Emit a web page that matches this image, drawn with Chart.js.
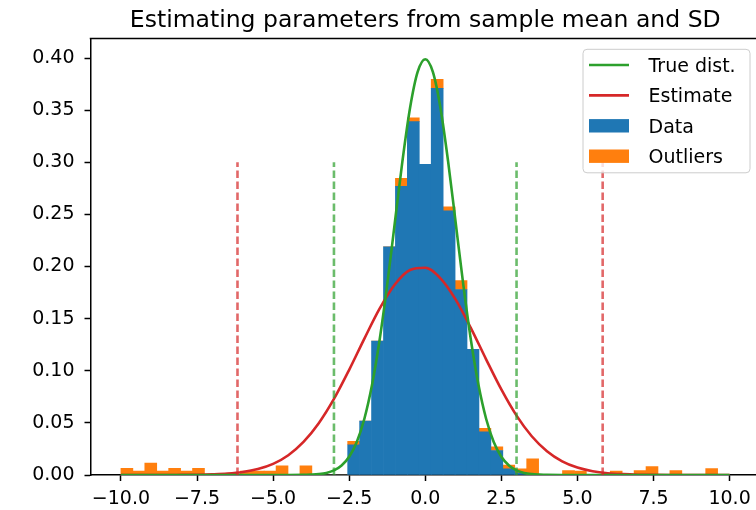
<!DOCTYPE html>
<html>
<head>
<meta charset="utf-8">
<script src="https://cdn.jsdelivr.net/npm/chart.js@4.4.1/dist/chart.umd.min.js"></script>
<style>
  html, body { margin: 0; padding: 0; background: #fff; overflow: hidden; width: 756px; height: 510px; }
  canvas { display: block; }
</style>
</head>
<body>
<canvas id="c" width="760" height="510"></canvas>
<script>
// ---------- data ----------
const chartTitle = 'Estimating parameters from sample mean and SD';
const legendLabels = ['True dist.', 'Estimate', 'Data', 'Outliers'];

// histogram: 51 equal bins over [-10, 10]
const histRange = [-10, 10];
const dataDensity = [
  0, 0, 0, 0, 0, 0, 0, 0, 0, 0,
  0, 0, 0, 0, 0, 0, 0, 0, 0, 0.0290,
  0.0518, 0.1285, 0.2190, 0.2770, 0.3390, 0.2980, 0.3710, 0.2535, 0.1780, 0.1206,
  0.0415, 0.0235, 0.0058, 0.0020, 0, 0, 0, 0, 0, 0,
  0, 0, 0, 0, 0, 0, 0, 0, 0, 0,
  0
];
const outlierDensity = [
  0.0064, 0.0038, 0.0115, 0.0038, 0.0064, 0.0038, 0.0064, 0, 0, 0,
  0.0038, 0.0038, 0.0038, 0.0087, 0, 0.0087, 0, 0, 0, 0.0032,
  0, 0, 0, 0.0077, 0.0038, 0, 0.0086, 0.0038, 0.0085, 0,
  0.0033, 0.0036, 0.0038, 0.0038, 0.0156, 0, 0, 0.0042, 0.0038, 0,
  0, 0.0038, 0, 0.0042, 0.0080, 0, 0.0042, 0, 0, 0.0062,
  0
];

// true distribution curve (green)
const trueX = [-10, -5, -4.5, -4, -3.75, -3.5, -3.25, -3, -2.75, -2.5, -2.25, -2, -1.75, -1.5, -1.25, -1, -0.75, -0.5, -0.25,
  0, 0.25, 0.5, 0.75, 1, 1.25, 1.5, 1.75, 2, 2.25, 2.5, 2.75, 3, 3.25, 3.5, 3.75, 4, 4.5, 5, 10];
const trueY = [0, 0, 0, 0.0001, 0.0004, 0.0009, 0.0020, 0.0044, 0.0091, 0.0175, 0.0317, 0.0540, 0.0863, 0.1295, 0.1826, 0.2420, 0.3011, 0.3521, 0.3867,
  0.3989, 0.3867, 0.3521, 0.3011, 0.2420, 0.1826, 0.1295, 0.0863, 0.0540, 0.0317, 0.0175, 0.0091, 0.0044, 0.0020, 0.0009, 0.0004, 0.0001, 0, 0, 0];

// estimated curve (red)
const estX = [-10, -9.5, -9, -8.5, -8, -7.5, -7, -6.5, -6, -5.5, -5, -4.5, -4, -3.5, -3, -2.5, -2, -1.5, -1, -0.5,
  0, 0.5, 1, 1.5, 2, 2.5, 3, 3.5, 4, 4.5, 5, 5.5, 6, 6.5, 7, 7.5, 8, 8.5, 9, 9.5, 10];
const estY = [0, 0, 0, 0, 0.0001, 0.0002, 0.0006, 0.0013, 0.0028, 0.0057, 0.0107, 0.0190, 0.0317, 0.0497, 0.0730, 0.1009, 0.1309, 0.1596, 0.1828, 0.1967,
  0.1988, 0.1887, 0.1683, 0.1410, 0.1110, 0.0821, 0.0570, 0.0372, 0.0228, 0.0131, 0.0071, 0.0036, 0.0017, 0.0008, 0.0003, 0.0001, 0, 0, 0, 0, 0];

// +-3 SD bounds (dashed verticals)
const trueBounds = [-3, 3];
const estBounds = [-6.17, 5.83];
const boundTop = 0.30;

// axes
const xLimits = [-11, 11];
const yLimits = [0, 0.4188];
const xTicks = [-10, -7.5, -5, -2.5, 0, 2.5, 5, 7.5, 10];
const xTickLabels = ['\u221210.0', '\u22127.5', '\u22125.0', '\u22122.5', '0.0', '2.5', '5.0', '7.5', '10.0'];
const yTicks = [0, 0.05, 0.10, 0.15, 0.20, 0.25, 0.30, 0.35, 0.40];
const yTickLabels = ['0.00', '0.05', '0.10', '0.15', '0.20', '0.25', '0.30', '0.35', '0.40'];

// ---------- build ----------
const FONT = '"DejaVu Sans", "Liberation Sans", sans-serif';
const binWidth = (histRange[1] - histRange[0]) / dataDensity.length;
const binCenters = dataDensity.map((_, k) => histRange[0] + (k + 0.5) * binWidth);
const pts = (xs, ys) => xs.map((x, i) => ({ x: x, y: ys[i] }));
const vline = (x) => [{ x: x, y: 0 }, { x: x, y: boundTop }];

const GREEN = '#2ca02c', RED = '#d62728', BLUE = '#1f77b4', ORANGE = '#ff7f0e';
const GREEN_A = 'rgba(44,160,44,0.7)', RED_A = 'rgba(214,39,40,0.7)';
const LW = 2.6;
const DASH = [7.5, 3.5];

const lineBase = { type: 'line', pointRadius: 0, borderWidth: LW, fill: false, order: 1, cubicInterpolationMode: 'monotone' };
const dashBase = { type: 'line', pointRadius: 0, borderWidth: LW, fill: false, order: 0, borderDash: DASH, tension: 0 };

const datasets = [
  Object.assign({}, lineBase, { label: legendLabels[0], data: pts(trueX, trueY), borderColor: GREEN, legendKind: 'line' }),
  Object.assign({}, lineBase, { label: legendLabels[1], data: pts(estX, estY), borderColor: RED, legendKind: 'line' }),
  { type: 'bar', label: legendLabels[2], data: pts(binCenters, dataDensity), backgroundColor: BLUE, borderWidth: 0,
    stack: 'hist', order: 2, barPercentage: 1, categoryPercentage: 1, legendKind: 'box' },
  { type: 'bar', label: legendLabels[3], data: pts(binCenters, outlierDensity), backgroundColor: ORANGE, borderWidth: 0,
    stack: 'hist', order: 2, barPercentage: 1, categoryPercentage: 1, legendKind: 'box' },
  Object.assign({}, dashBase, { label: 'tb0', data: vline(trueBounds[0]), borderColor: GREEN_A }),
  Object.assign({}, dashBase, { label: 'tb1', data: vline(trueBounds[1]), borderColor: GREEN_A }),
  Object.assign({}, dashBase, { label: 'eb0', data: vline(estBounds[0]), borderColor: RED_A }),
  Object.assign({}, dashBase, { label: 'eb1', data: vline(estBounds[1]), borderColor: RED_A })
];

const decor = {
  id: 'decor',
  afterDraw(chart) {
    const { ctx, chartArea: ca } = chart;
    ctx.save();
    // top spine
    ctx.strokeStyle = '#000';
    ctx.lineWidth = 1.5;
    ctx.beginPath();
    ctx.moveTo(ca.left - 0.75, ca.top);
    ctx.lineTo(ca.right, ca.top);
    ctx.stroke();
    // title
    ctx.fillStyle = '#000';
    ctx.font = '23.5px ' + FONT;
    ctx.textAlign = 'center';
    ctx.textBaseline = 'alphabetic';
    ctx.fillText(chartTitle, (ca.left + ca.right) / 2, ca.top - 11.5);
    // legend
    const items = chart.data.datasets.filter(d => d.legendKind);
    const bw = 167, bh = 123.5;
    const bx = ca.right - 10 - bw, by = ca.top + 10.8;
    ctx.beginPath();
    ctx.roundRect(bx, by, bw, bh, 4);
    ctx.fillStyle = 'rgba(255,255,255,0.8)';
    ctx.fill();
    ctx.strokeStyle = '#cccccc';
    ctx.lineWidth = 1;
    ctx.stroke();
    ctx.font = '19px ' + FONT;
    ctx.textAlign = 'left';
    items.forEach((d, i) => {
      const cy = by + 15.7 + i * 30.4;
      const hx0 = bx + 6, hx1 = bx + 46;
      if (d.legendKind === 'line') {
        ctx.strokeStyle = d.borderColor;
        ctx.lineWidth = LW;
        ctx.beginPath();
        ctx.moveTo(hx0, cy);
        ctx.lineTo(hx1, cy);
        ctx.stroke();
      } else {
        ctx.fillStyle = d.backgroundColor;
        ctx.fillRect(hx0, cy - 6.7, hx1 - hx0, 13.4);
      }
      ctx.fillStyle = '#000';
      ctx.fillText(d.label, bx + 65.5, cy + 7);
    });
    ctx.restore();
  }
};

const tickFont = { family: FONT, size: 19 };

new Chart(document.getElementById('c'), {
  type: 'bar',
  data: { datasets: datasets },
  plugins: [decor],
  options: {
    responsive: false,
    animation: false,
    events: [],
    layout: { padding: { top: 38.5, right: 0, bottom: 0, left: 0 } },
    plugins: { legend: { display: false }, title: { display: false }, tooltip: { enabled: false } },
    scales: {
      x: {
        type: 'linear', min: xLimits[0], max: xLimits[1], offset: false,
        afterBuildTicks: (s) => { s.ticks = xTicks.map(v => ({ value: v })); },
        afterFit: (s) => { s.height = 35; },
        ticks: { callback: (v, i) => xTickLabels[i], font: tickFont, color: '#000', padding: 7, maxRotation: 0, autoSkip: false },
        grid: { display: true, drawOnChartArea: false, drawTicks: true, tickLength: 6, tickWidth: 1.5, tickColor: '#000', offset: false },
        border: { display: true, color: '#000', width: 1.5 }
      },
      y: {
        type: 'linear', min: yLimits[0], max: yLimits[1],
        afterBuildTicks: (s) => { s.ticks = yTicks.map(v => ({ value: v })); },
        afterFit: (s) => { s.width = 90.5; },
        ticks: { callback: (v, i) => yTickLabels[i], font: tickFont, color: '#000', padding: 10, autoSkip: false },
        grid: { display: true, drawOnChartArea: false, drawTicks: true, tickLength: 6, tickWidth: 1.5, tickColor: '#000' },
        border: { display: true, color: '#000', width: 1.5 }
      }
    }
  }
});
</script>
</body>
</html>
